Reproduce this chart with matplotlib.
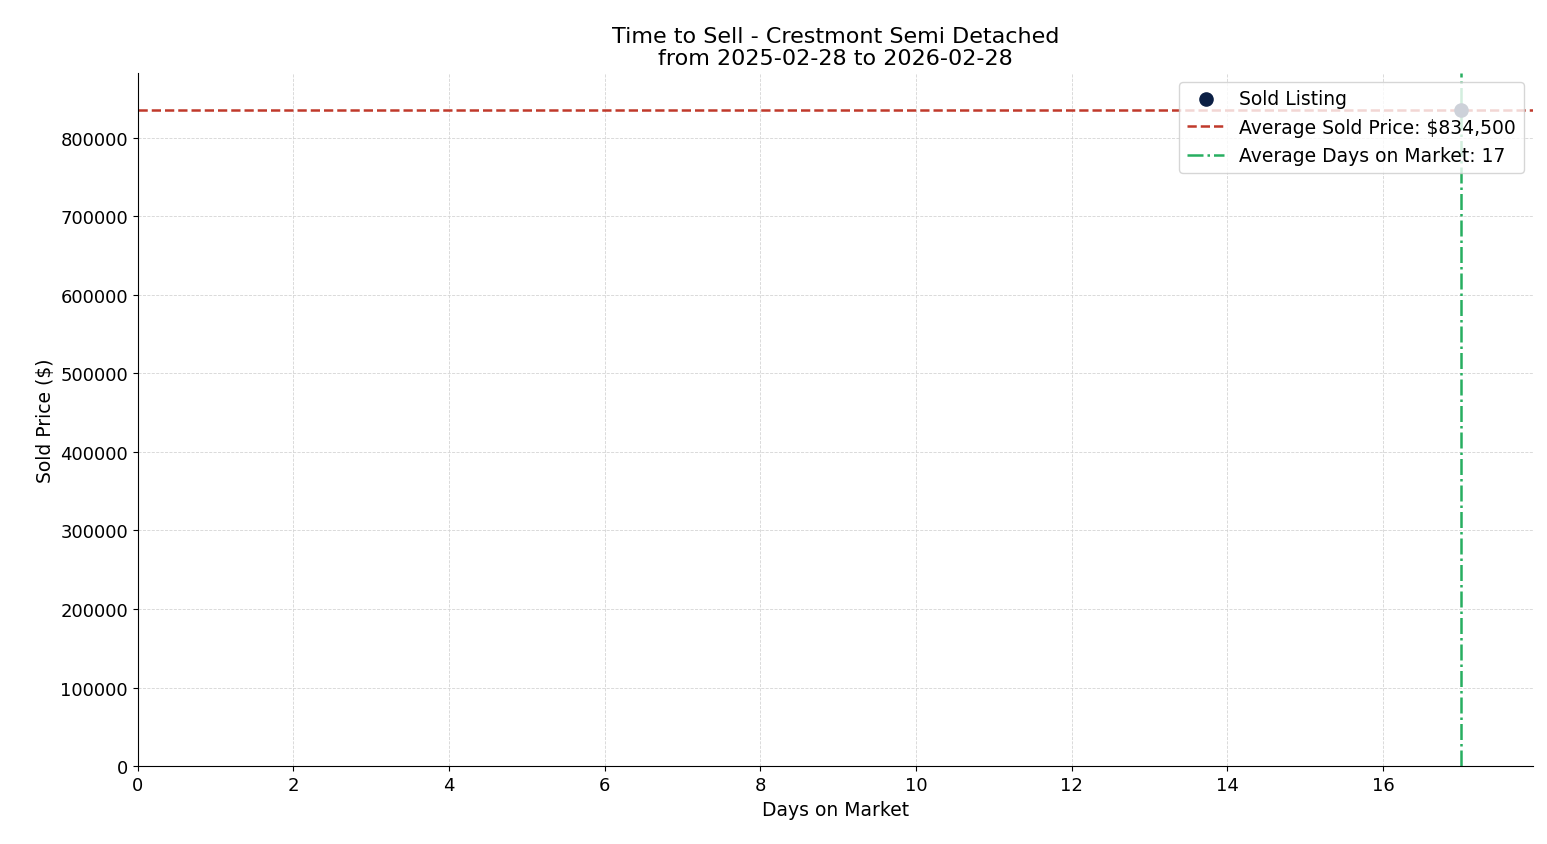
import matplotlib
matplotlib.use("Agg")
import matplotlib.pyplot as plt

days_on_market = [17]
sold_prices = [834500]
avg_price = 834500
avg_days = 17

fig, ax = plt.subplots(figsize=(15.47, 8.45), dpi=100)
ax.scatter(days_on_market, sold_prices, s=90, color="#0b1f44", zorder=3, label="Sold Listing")
ax.axhline(avg_price, color="#c0392b", ls="--", lw=1.8, label=f"Average Sold Price: ${avg_price:,.0f}")
ax.axvline(avg_days, color="#27ae60", ls="-.", lw=1.8, label=f"Average Days on Market: {avg_days}")

ax.set_xlim(0, 17.93)
ax.set_ylim(0, 882700)
ax.set_xticks(range(0, 18, 2))
ax.grid(True, ls="--", lw=0.6, color="#d5d5d5")
ax.set_axisbelow(True)
for s in ("top", "right"):
    ax.spines[s].set_visible(False)
ax.tick_params(labelsize=13)
ax.set_xlabel("Days on Market", fontsize=13.5)
ax.set_ylabel("Sold Price ($)", fontsize=13.5)
ax.set_title("Time to Sell - Crestmont Semi Detached\nfrom 2025-02-28 to 2026-02-28", fontsize=16,
             linespacing=1.15)
ax.legend(loc="upper right", fontsize=13.5, framealpha=0.8)

fig.subplots_adjust(left=0.089, right=0.991, top=0.913, bottom=0.092)
fig.savefig("out.png", dpi=100)
